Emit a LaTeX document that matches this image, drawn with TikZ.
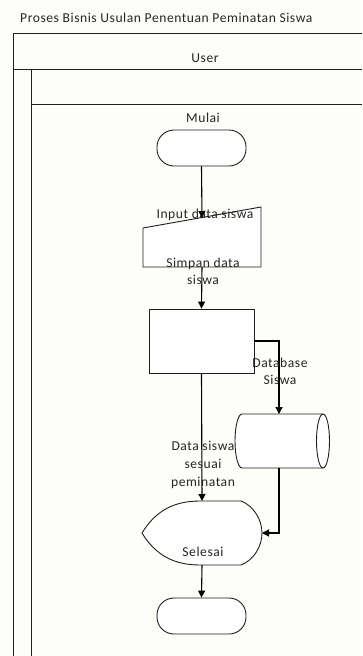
\documentclass[tikz,border=0pt]{standalone}
\usepackage{fontspec}
\setmainfont{Carlito}[LetterSpace=4]
\usetikzlibrary{arrows.meta,calc}
\definecolor{bgc}{RGB}{253,253,249}
\definecolor{linec}{RGB}{30,30,30}
\begin{document}
\begin{tikzpicture}[x=1pt,y=-1pt,
  font=\fontsize{13.6}{17}\selectfont,
  lbl/.style={inner sep=0pt, anchor=base, text=black!85},
  pool/.style={draw=linec, line width=1pt},
  shp/.style={draw=linec, line width=0.9pt, fill=white},
  term/.style={shp, rounded corners=17pt, minimum width=89pt, minimum height=36pt, inner sep=0pt},
  ph/.style={inner sep=0pt, outer sep=0pt},
  arr/.style={draw=black, line width=1.1pt, -{Triangle[length=7pt,width=7pt]}},
  ln/.style={draw=black, line width=1.1pt}]
\useasboundingbox (0,0) rectangle (362,656);
\fill[bgc] (0,0) rectangle (362,656);

% pool / lane
\draw[pool] (13,656) -- (13,33) -- (362,33);
\draw[pool] (13,69) -- (362,69);
\draw[pool] (31,656) -- (31,69);
\draw[pool] (31,104) -- (362,104);
\node[lbl, anchor=base west] (title) at (20,22) {Proses Bisnis Usulan Penentuan Peminatan Siswa};
\node[lbl] (user) at (205,62) {User};

% start terminal
\node[term] (start) at (201.5,148) {};
\node[lbl] (mulai) at (203,122) {Mulai};

% manual input
\node[ph, minimum width=118pt, minimum height=60pt] (inp) at (202,237) {};
\draw[shp] (inp.south west) -- (inp.south east) -- (inp.north east)
  -- ($(inp.north west)+(0,21)$) -- cycle;
\coordinate (inpTop) at (202,218);
\coordinate (inpBot) at (202,267);

% process
\node[shp, minimum width=105pt, minimum height=64pt, inner sep=0pt] (proc) at (201.5,341) {};

% database (cylinder)
\node[ph, minimum width=95pt, minimum height=54pt] (db) at (282.5,441) {};
\draw[shp] (242,414) -- (323,414) arc[start angle=-90, end angle=90, x radius=6.5pt, y radius=-27pt]
  -- (242,468) arc[start angle=90, end angle=270, x radius=7pt, y radius=-27pt] -- cycle;
\draw[linec, line width=0.9pt] (323,414) arc[start angle=-90, end angle=-270, x radius=6.5pt, y radius=-27pt];
\coordinate (dbTop) at (279,414);
\coordinate (dbBot) at (279,468);

% display
\node[ph, minimum width=120pt, minimum height=64pt] (disp) at (202,533) {};
\draw[shp] (142,533) .. controls (156,510) and (175,501) .. (200,501) -- (241,501)
  .. controls (254,506) and (262,520) .. (262,533)
  .. controls (262,546) and (254,560) .. (241,565) -- (200,565)
  .. controls (175,565) and (156,556) .. (142,533) -- cycle;

% end terminal
\node[term] (end) at (201.5,616) {};

% connectors
\draw[arr] (start.south) -- (inpTop);
\draw[arr] (inpBot) -- (proc.north);
\coordinate (c1) at (279,341);
\draw[arr] (proc.east) -- (c1) -- (dbTop);
\draw[arr] (proc.south) -- (disp.north);
\coordinate (c2) at (279,533);
\draw[arr] (dbBot) -- (c2) -- (disp.east);
\draw[arr] (disp.south) -- (end.north);

% labels
\node[lbl] (l1) at (205,218) {Input data siswa};
\node[lbl] (l2a) at (203,267) {Simpan data};
\node[lbl] (l2b) at (203,284) {siswa};
\node[lbl] (l3a) at (280,367) {Database};
\node[lbl] (l3b) at (280,384) {Siswa};
\node[lbl] (l4a) at (203,450) {Data siswa};
\node[lbl] (l4b) at (203,468) {sesuai};
\node[lbl] (l4c) at (203,486) {peminatan};
\node[lbl] (l5) at (203,556) {Selesai};
\end{tikzpicture}
\end{document}
